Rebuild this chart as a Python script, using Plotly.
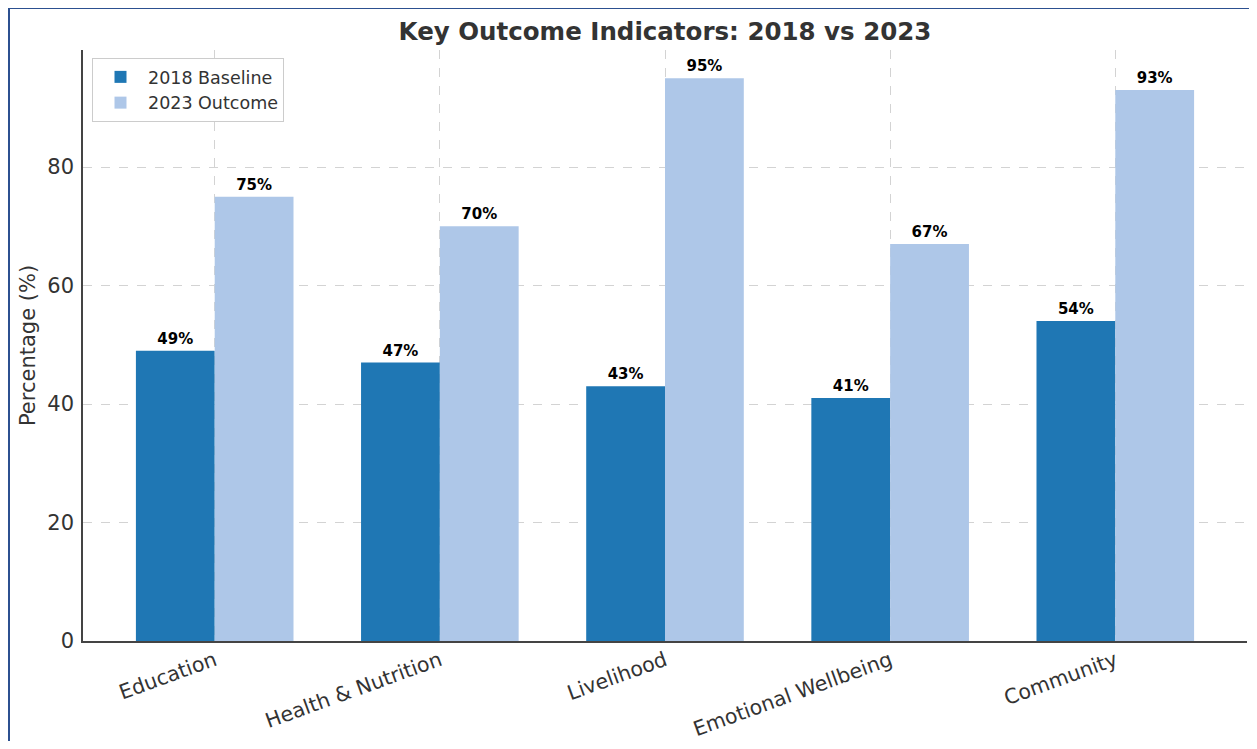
import plotly.graph_objects as go

categories = ["Education", "Health & Nutrition", "Livelihood", "Emotional Wellbeing", "Community"]
baseline_2018 = [49, 47, 43, 41, 54]
outcome_2023 = [75, 70, 95, 67, 93]
series_names = ["2018 Baseline", "2023 Outcome"]
series_colors = ["#1f77b4", "#aec7e8"]
y_ticks = [0, 20, 40, 60, 80]

FONT = "DejaVu Sans"
W, H = 1241, 733
ML, MR, MT, MB = 75, 2, 42, 100
PW, PH = W - ML - MR, H - MT - MB

fig = go.Figure()
for name, vals, color in zip(series_names, [baseline_2018, outcome_2023], series_colors):
    fig.add_trace(go.Bar(
        x=categories, y=vals, name=name,
        marker=dict(color=color, line=dict(width=0)),
        text=[f"{v}%" for v in vals], textposition="outside",
        textfont=dict(family=FONT, size=15, color="#000000", weight="bold"),
        cliponaxis=False,
    ))

def px_to_paper_x(px):
    return (px - ML) / PW

def px_to_paper_y(py):
    return (MT + PH - py) / PH

# outer frame border
fig.add_shape(type="rect", xref="paper", yref="paper",
              x0=px_to_paper_x(1), x1=px_to_paper_x(W + 6),
              y0=px_to_paper_y(H + 6), y1=px_to_paper_y(0),
              line=dict(color="#2c5090", width=2), fillcolor="rgba(0,0,0,0)", layer="above")

fig.update_layout(
    width=W, height=H,
    margin=dict(l=ML, r=MR, t=MT, b=MB, autoexpand=False),
    paper_bgcolor="white", plot_bgcolor="white",
    barmode="group", bargap=0.3, bargroupgap=0,
    font=dict(family=FONT, color="#333333"),
    title=dict(text="Key Outcome Indicators: 2018 vs 2023", x=0.5, xref="paper", xanchor="center",
               y=1 - 23 / H, yref="container", yanchor="middle",
               font=dict(family=FONT, size=24.5, color="#333333", weight="bold")),
    legend=dict(x=px_to_paper_x(84), y=px_to_paper_y(50), xanchor="left", yanchor="top",
                bgcolor="white", bordercolor="#cccccc", borderwidth=1, itemwidth=45,
                font=dict(family=FONT, size=17.5, color="#333333")),
    showlegend=True,
)
fig.update_xaxes(
    range=[-0.585, 4.585], tickangle=-20, showgrid=True, gridcolor="#d3d3d3", griddash="dash",
    gridwidth=1, showline=True, linecolor="#444444", linewidth=1.5,
    ticks="", ticklabelstandoff=-2, tickfont=dict(family=FONT, size=20.5, color="#333333"),
)
fig.update_yaxes(
    range=[0, 99.75], tickvals=y_ticks, showgrid=True, gridcolor="#d3d3d3", griddash="dash",
    gridwidth=1, zeroline=False, showline=True, linecolor="#444444", linewidth=1.5,
    ticks="", ticklabelstandoff=3, tickfont=dict(family=FONT, size=21, color="#333333"),
    title=dict(text="Percentage (%)", standoff=6, font=dict(family=FONT, size=21, color="#333333")),
)

fig.write_html("out.html")
